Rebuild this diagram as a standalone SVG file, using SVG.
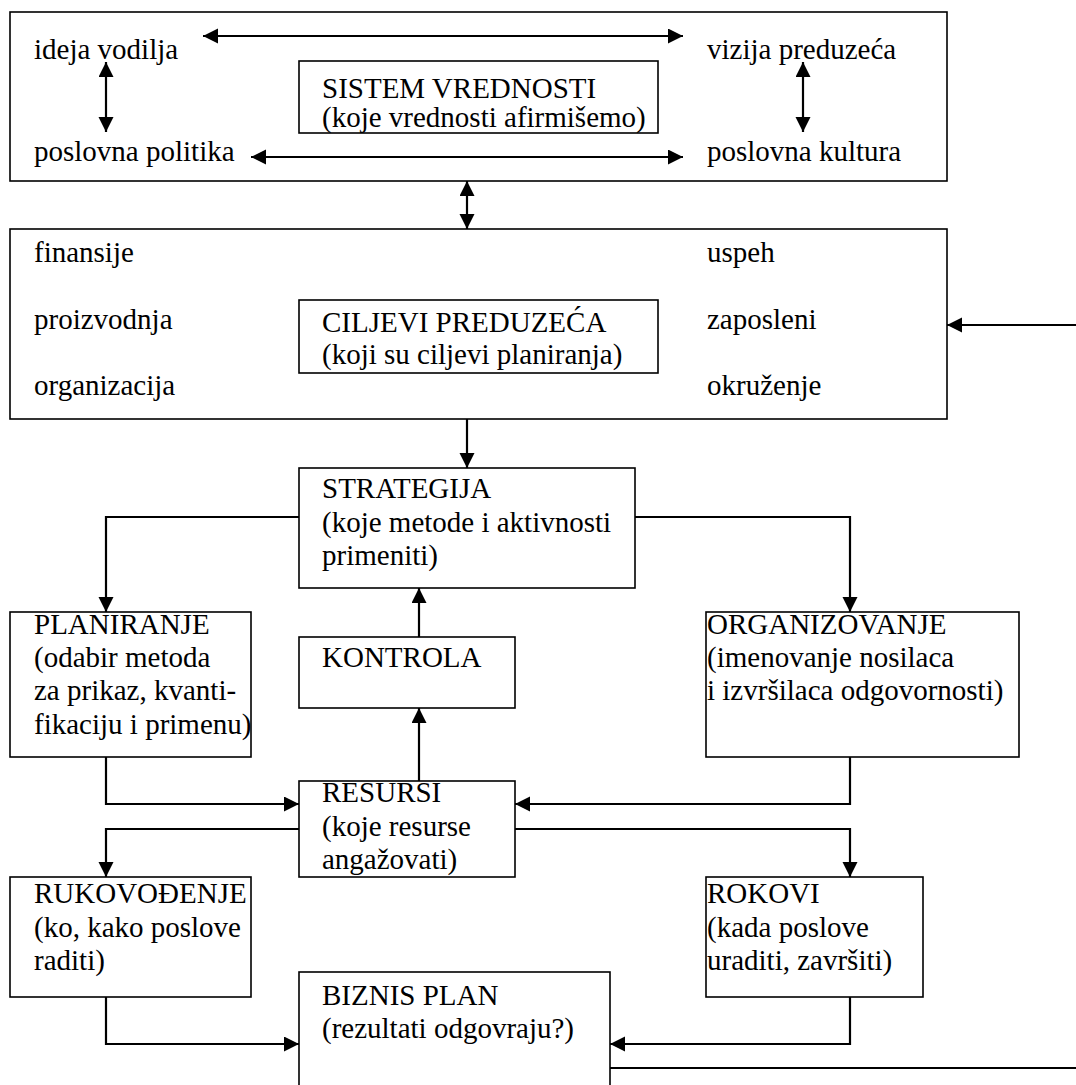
<svg xmlns="http://www.w3.org/2000/svg" width="1076" height="1085" viewBox="0 0 1076 1085">
<style>
text{font-family:'Liberation Serif','Times New Roman',Times,'DejaVu Serif',serif;font-size:29px;fill:#000}
.box{fill:#fff;stroke:#000;stroke-width:1.6}
.c{fill:none;stroke:#000;stroke-width:2.2}
</style>
<defs>
<marker id="a" markerUnits="userSpaceOnUse" markerWidth="16" markerHeight="16" refX="15" refY="7.5" orient="auto-start-reverse" viewBox="0 0 16 16"><path d="M0,0 L15,7.5 L0,15 z" fill="#000"/></marker>
</defs>
<rect width="1076" height="1085" fill="#fff"/>
<g font-family="Liberation Serif, Times New Roman, serif">
<g id="vrednosti">
<rect class="box" x="10" y="12" width="937" height="169"/>
<text x="34" y="59">ideja vodilja</text>
<text x="707" y="59">vizija preduzeća</text>
<text x="34" y="161">poslovna politika</text>
<text x="707" y="161">poslovna kultura</text>
</g>
<g id="sistem">
<rect class="box" x="299" y="61" width="359" height="72"/>
<text x="322" y="98">SISTEM VREDNOSTI</text>
<text x="322" y="127">(koje vrednosti afirmišemo)</text>
</g>
<g id="ciljevi-okvir">
<rect class="box" x="10" y="229" width="937" height="190"/>
<text x="34" y="262">finansije</text>
<text x="34" y="329">proizvodnja</text>
<text x="34" y="395">organizacija</text>
<text x="707" y="262">uspeh</text>
<text x="707" y="329">zaposleni</text>
<text x="707" y="395">okruženje</text>
</g>
<g id="ciljevi">
<rect class="box" x="299" y="300" width="359" height="73"/>
<text x="322" y="332">CILJEVI PREDUZEĆA</text>
<text x="322" y="364">(koji su ciljevi planiranja)</text>
</g>
<g id="strategija">
<rect class="box" x="299" y="468" width="336" height="120"/>
<text x="322" y="498">STRATEGIJA</text>
<text x="322" y="532">(koje metode i aktivnosti</text>
<text x="322" y="565">primeniti)</text>
</g>
<g id="planiranje">
<rect class="box" x="10" y="612" width="241" height="145"/>
<text x="34" y="634">PLANIRANJE</text>
<text x="34" y="667">(odabir metoda</text>
<text x="34" y="700">za prikaz, kvanti-</text>
<text x="34" y="734">fikaciju i primenu)</text>
</g>
<g id="kontrola">
<rect class="box" x="299" y="637" width="216" height="71"/>
<text x="322" y="667">KONTROLA</text>
</g>
<g id="organizovanje">
<rect class="box" x="706" y="612" width="313" height="145"/>
<text x="707" y="634">ORGANIZOVANJE</text>
<text x="707" y="667">(imenovanje nosilaca</text>
<text x="707" y="700">i izvršilaca odgovornosti)</text>
</g>
<g id="resursi">
<rect class="box" x="299" y="781" width="216" height="96"/>
<text x="322" y="802">RESURSI</text>
<text x="322" y="836">(koje resurse</text>
<text x="322" y="869">angažovati)</text>
</g>
<g id="rukovodjenje">
<rect class="box" x="10" y="877" width="241" height="120"/>
<text x="34" y="903">RUKOVOĐENJE</text>
<text x="34" y="937">(ko, kako poslove</text>
<text x="34" y="970">raditi)</text>
</g>
<g id="rokovi">
<rect class="box" x="706" y="877" width="217" height="120"/>
<text x="707" y="903">ROKOVI</text>
<text x="707" y="937">(kada poslove</text>
<text x="707" y="970">uraditi, završiti)</text>
</g>
<g id="biznis-plan">
<rect class="box" x="299" y="972" width="311" height="130"/>
<text x="322" y="1005">BIZNIS PLAN</text>
<text x="322" y="1038">(rezultati odgovraju?)</text>
</g>
</g>
<g id="connectors">
<line class="c" x1="203" y1="36" x2="683" y2="36" marker-start="url(#a)" marker-end="url(#a)"/>
<line class="c" x1="251" y1="157" x2="683" y2="157" marker-start="url(#a)" marker-end="url(#a)"/>
<line class="c" x1="106" y1="62" x2="106" y2="132" marker-start="url(#a)" marker-end="url(#a)"/>
<line class="c" x1="803" y1="62" x2="803" y2="132" marker-start="url(#a)" marker-end="url(#a)"/>
<line class="c" x1="467" y1="181" x2="467" y2="229" marker-start="url(#a)" marker-end="url(#a)"/>
<line class="c" x1="1076" y1="325" x2="947" y2="325" marker-end="url(#a)"/>
<line class="c" x1="467" y1="419" x2="467" y2="468" marker-end="url(#a)"/>
<polyline class="c" points="299,517 106,517 106,612" marker-end="url(#a)"/>
<polyline class="c" points="635,517 850,517 850,612" marker-end="url(#a)"/>
<line class="c" x1="419" y1="637" x2="419" y2="588" marker-end="url(#a)"/>
<line class="c" x1="419" y1="781" x2="419" y2="708" marker-end="url(#a)"/>
<polyline class="c" points="106,757 106,804 299,804" marker-end="url(#a)"/>
<polyline class="c" points="850,757 850,804 515,804" marker-end="url(#a)"/>
<polyline class="c" points="299,829 106,829 106,877" marker-end="url(#a)"/>
<polyline class="c" points="515,829 850,829 850,877" marker-end="url(#a)"/>
<polyline class="c" points="106,997 106,1044 299,1044" marker-end="url(#a)"/>
<polyline class="c" points="850,997 850,1044 610,1044" marker-end="url(#a)"/>
<line class="c" x1="610" y1="1068" x2="1076" y2="1068"/>
</g>
</svg>
